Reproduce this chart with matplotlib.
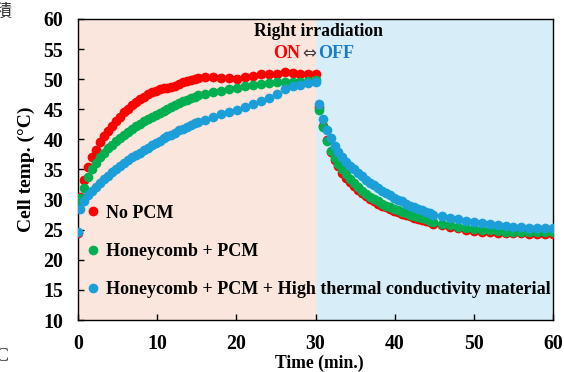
import numpy as np
import matplotlib
matplotlib.use("Agg")
import matplotlib.pyplot as plt

plt.rcParams["font.family"] = ["Liberation Serif", "DejaVu Serif"]
plt.rcParams["font.weight"] = "bold"

# tiempos (min)
t_rise = np.r_[0, np.arange(0.3, 15.0, 0.5), np.arange(15.1, 30.2, 1.0)]
t_decay = np.r_[np.arange(30.4, 45.0, 0.5), np.arange(46, 60.1, 1.0)]

# No PCM
red_rise = [24.5,
            30.5, 33.3, 35.4, 37.0, 38.3, 39.5, 40.5, 41.4, 42.3, 43.1,
            43.8, 44.5, 45.1, 45.7, 46.2, 46.7, 47.1, 47.5, 47.8, 48.1,
            48.3, 48.5, 48.6, 48.7, 48.9, 49.2, 49.5, 49.7, 49.9, 50.1,
            50.2, 50.4, 50.4, 50.2, 50.2, 50.1, 50.3, 50.5, 50.8, 50.9,
            50.8, 51.2, 51.0, 50.9, 50.8, 50.9]
red_decay = [45.4, 42.2, 39.9, 37.9, 36.6, 35.5, 34.5, 33.6, 32.9, 32.2,
             31.6, 31.1, 30.6, 30.1, 29.7, 29.3, 29.0, 28.7, 28.4, 28.1,
             27.9, 27.6, 27.4, 27.2, 27.0, 26.8, 26.6, 26.4, 26.2, 26.0,
             25.7, 25.4, 25.2, 25.0, 24.8, 24.7, 24.6, 24.5, 24.5, 24.4,
             24.4, 24.3, 24.3, 24.3, 24.3]

# Honeycomb + PCM
green_rise = [29.5,
              30.3, 32.0, 33.8, 35.0, 36.1, 37.0, 37.8, 38.5, 39.1, 39.7,
              40.2, 40.7, 41.2, 41.7, 42.2, 42.6, 43.0, 43.4, 43.7, 44.1,
              44.4, 44.8, 45.1, 45.4, 45.7, 46.0, 46.3, 46.6, 46.9, 47.1,
              47.3, 47.6, 47.8, 48.1, 48.4, 48.6, 48.9, 49.1, 49.2, 49.4,
              49.5, 49.5, 49.6, 49.6, 49.7, 49.8]
green_decay = [44.9, 42.0, 39.7, 38.1, 36.9, 35.9, 35.0, 34.2, 33.4, 32.7,
               32.1, 31.5, 31.0, 30.5, 30.1, 29.7, 29.3, 29.0, 28.7, 28.4,
               28.2, 27.9, 27.7, 27.5, 27.3, 27.1, 26.9, 26.7, 26.5, 26.3,
               26.0, 25.7, 25.5, 25.3, 25.1, 25.0, 24.9, 24.8, 24.7, 24.7,
               24.6, 24.6, 24.6, 24.6, 24.6]

# Honeycomb + PCM + High thermal conductivity material
blue_rise = [24.7,
             28.5, 29.7, 30.7, 31.4, 32.1, 32.8, 33.4, 34.0, 34.6, 35.1,
             35.6, 36.1, 36.6, 37.0, 37.4, 37.8, 38.2, 38.6, 39.0, 39.4,
             39.8, 40.2, 40.5, 40.8, 41.1, 41.5, 41.8, 42.1, 42.4, 42.7,
             42.9, 43.3, 43.7, 44.2, 44.5, 44.9, 45.4, 45.9, 46.4, 46.9,
             47.6, 48.3, 48.8, 49.1, 49.4, 49.6]
blue_decay = [45.8, 43.4, 41.6, 40.2, 38.9, 37.9, 37.0, 36.3, 35.6, 35.0,
              34.4, 33.9, 33.3, 32.8, 32.4, 31.9, 31.5, 31.1, 30.7, 30.3,
              30.0, 29.7, 29.3, 29.0, 28.7, 28.4, 28.2, 27.9, 27.7, 27.5,
              27.2, 26.9, 26.7, 26.5, 26.3, 26.1, 25.9, 25.7, 25.6, 25.5,
              25.4, 25.3, 25.2, 25.2, 25.2]

labels = ["No PCM", "Honeycomb + PCM",
          "Honeycomb + PCM + High thermal conductivity material"]
colors = ["#ff0000", "#00b050", "#1c9fd8"]

fig = plt.figure(figsize=(5.64, 3.72), dpi=100)
ax = fig.add_axes([78 / 564, 52 / 372, 475 / 564, 301 / 372])

# fondo: luz encendida / apagada
ax.axvspan(0, 30, color="#fae6dc", zorder=0, lw=0)
ax.axvspan(30, 60, color="#d7eef8", zorder=0, lw=0)

series = [(red_rise, red_decay), (green_rise, green_decay), (blue_rise, blue_decay)]
for (rise, decay), c, lab in zip(series, colors, labels):
    t = np.r_[t_rise, t_decay]
    y = np.r_[rise, decay]
    ax.plot(t, y, "o", ms=7, color=c, mec="none", label=lab, zorder=3)

ax.set_xlim(0, 60)
ax.set_ylim(10, 60)
ax.set_xticks(range(0, 61, 10))
ax.set_yticks(range(10, 61, 5))
ax.tick_params(direction="in", length=4, width=1, labelsize=14.3)
ax.tick_params(axis="x", pad=10)
ax.tick_params(axis="y", pad=10.5)
for s in ax.spines.values():
    s.set_linewidth(1)

ax.set_xlabel("Time (min.)", fontsize=12.7, fontweight="bold")
ax.xaxis.set_label_coords(0.509, -0.115)
ax.set_ylabel("Cell temp. (°C)", fontsize=14, fontweight="bold", labelpad=6)

ax.legend(loc="lower left", bbox_to_anchor=(-0.006, 0.03), frameon=False,
          handlelength=0.6, handletextpad=0.4, labelspacing=1.18,
          borderaxespad=0.3, prop={"size": 13, "weight": "bold"})

ax.text(30.4, 58.0, "Right irradiation", ha="center", va="center",
        fontsize=12.7, fontweight="bold")
ax.text(29.2, 54.35, "⇔", ha="center", va="center", fontsize=12,
        family=["DejaVu Sans"], fontweight="normal", color="#404040")
ax.text(28.0, 54.35, "ON", ha="right", va="center", fontsize=13,
        fontweight="bold", color="#ff0000")
ax.text(30.3, 54.35, "OFF", ha="left", va="center", fontsize=13,
        fontweight="bold", color="#1a7cc8")

# restos recortados de la figura original
fig.text(-0.012, 0.955, "積", fontsize=13, family=["Noto Sans CJK JP"],
         color="#333333", fontweight="normal")
fig.text(-0.008, 0.03, "C", fontsize=14, color="#333333", fontweight="normal")

fig.savefig("out.png", dpi=100)
